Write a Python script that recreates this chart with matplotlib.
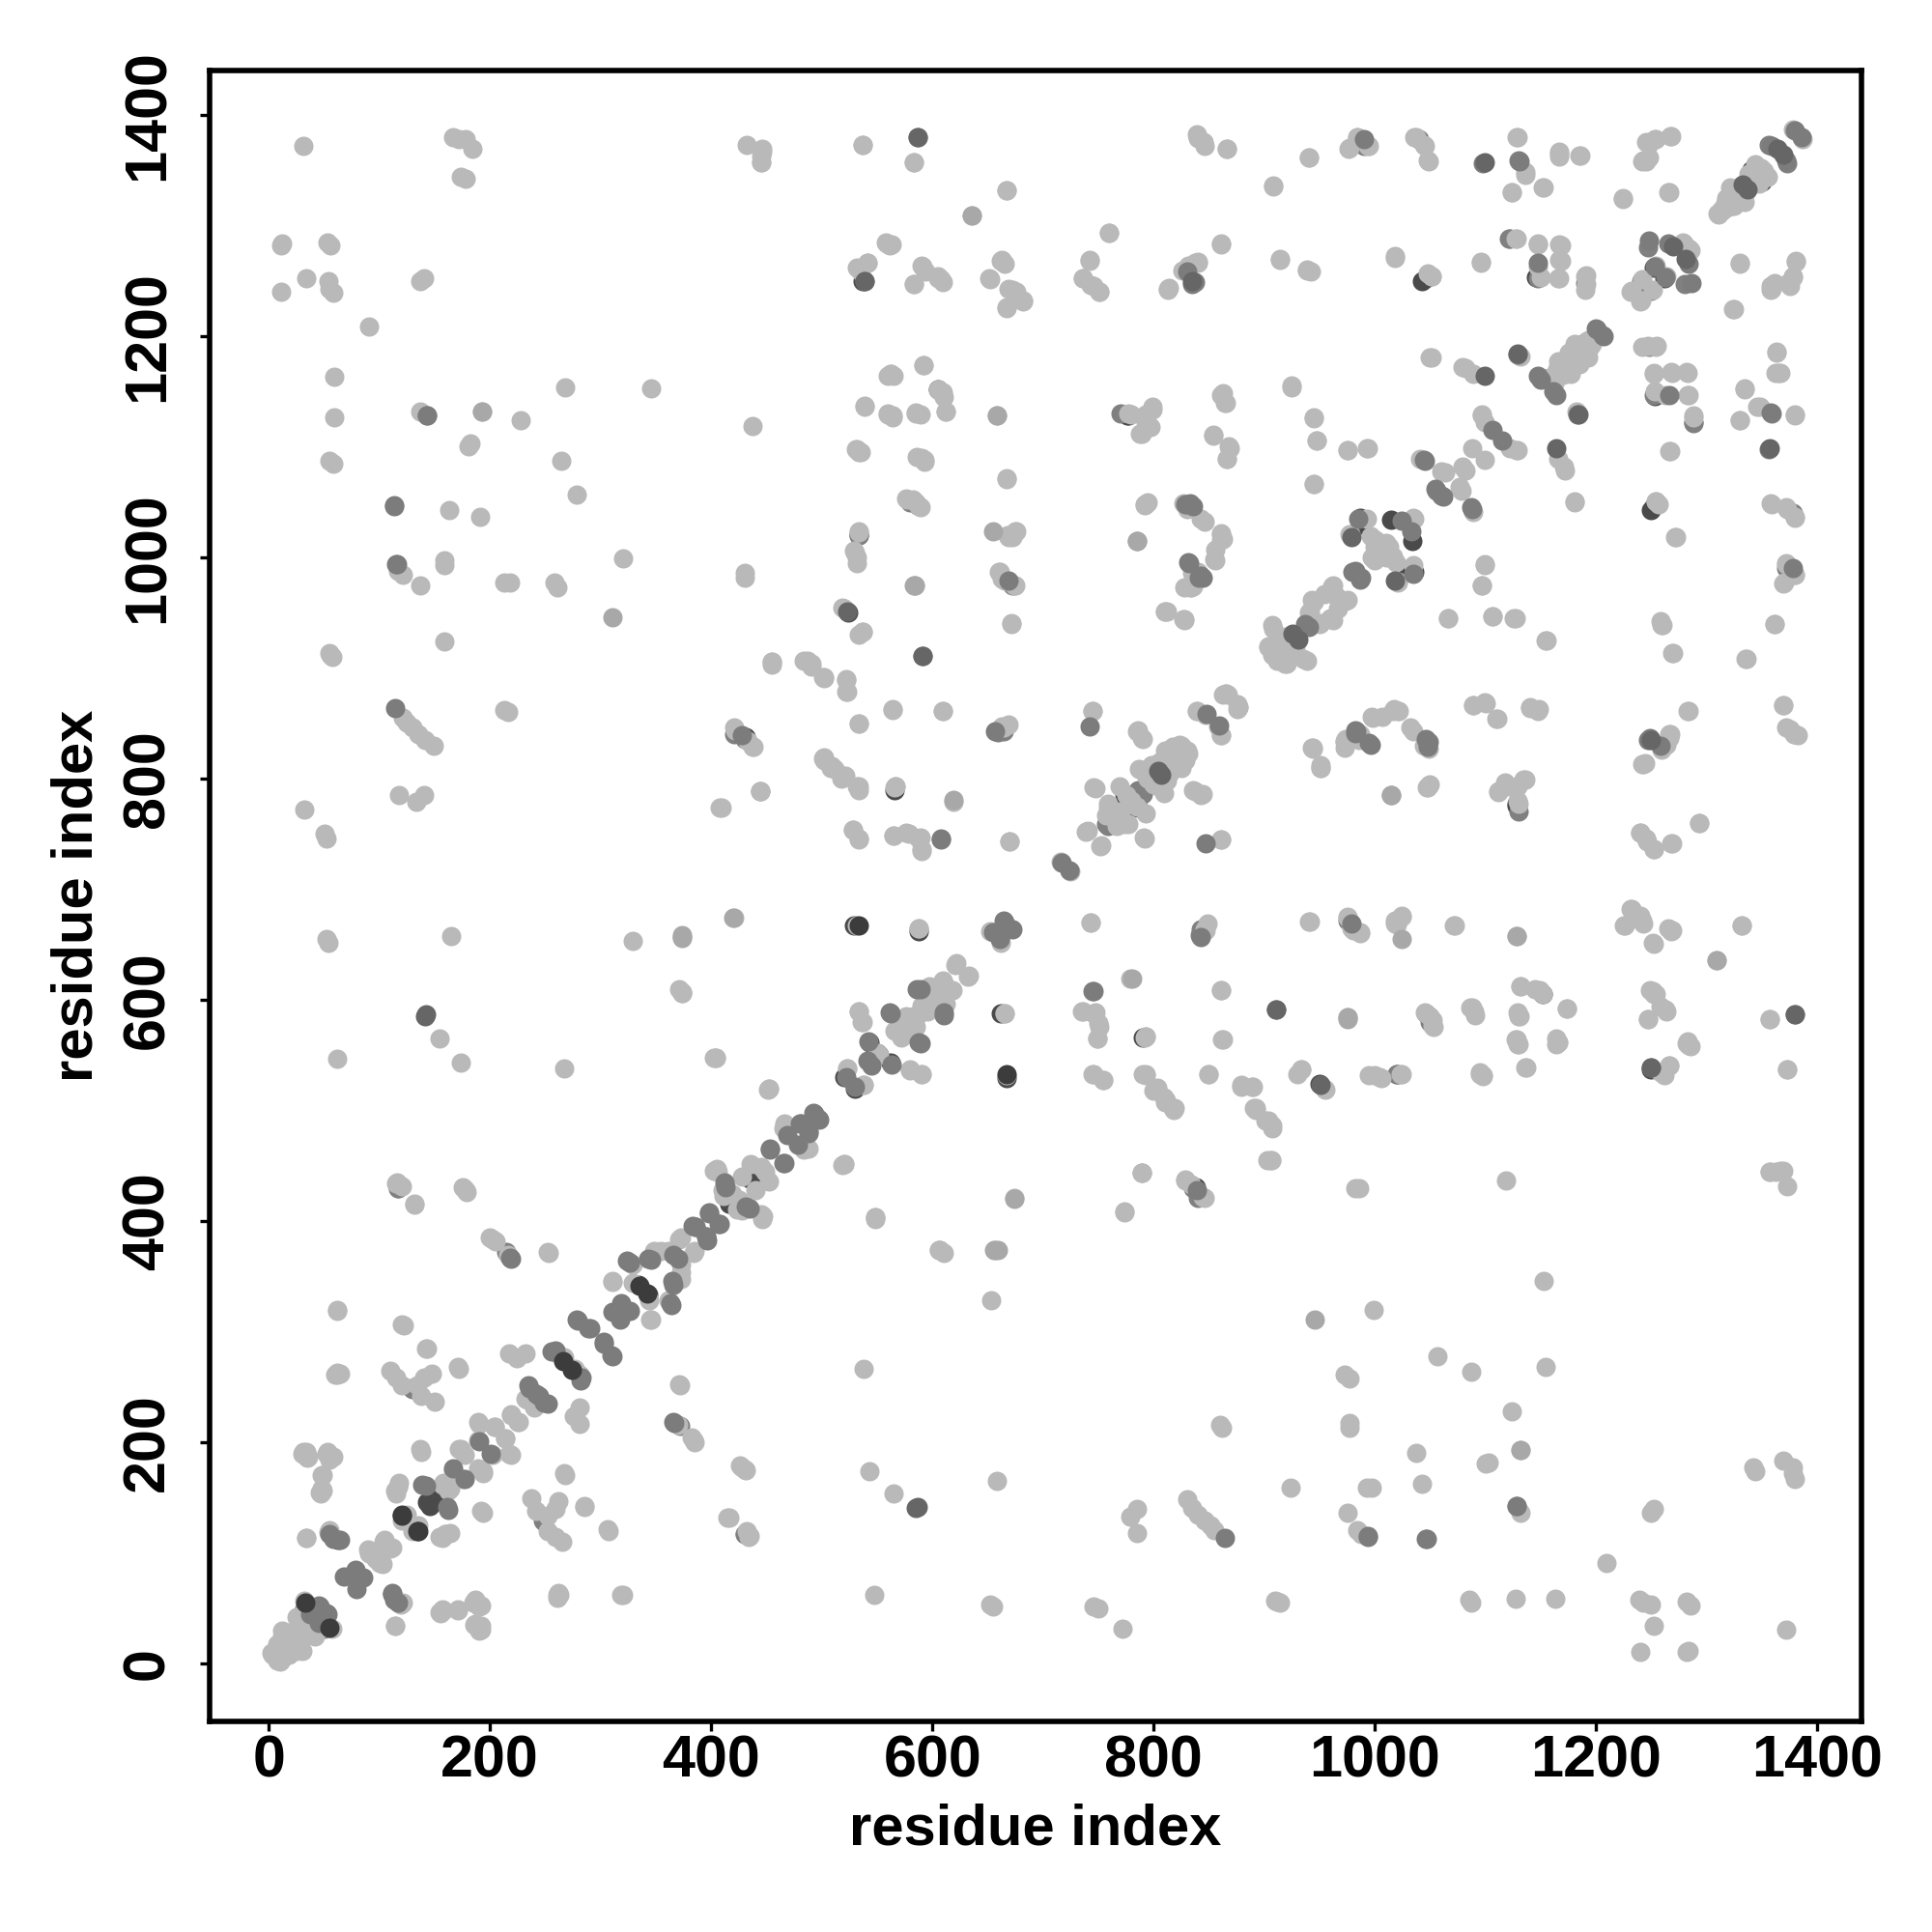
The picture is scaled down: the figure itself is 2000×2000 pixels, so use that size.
import matplotlib
matplotlib.use('Agg')
import matplotlib.pyplot as plt

plt.rcParams['font.family'] = ['Liberation Sans', 'DejaVu Sans']
plt.rcParams['font.weight'] = 'bold'

# contacts as (residue i, residue j), the map is symmetric
under_dark = [(112,63),(416,416),(439,435),(433,441),(343,334),(146,143),(147,157),(550,552),(520,530),
    (543,562),(667,529),(774,786),(1350,1340),(1262,1252),(1046,1252),(1128,777),(1250,1043),(1253,1146),
    (774,770),(566,790),(838,431),(588,662),(987,1030),(1034,1015),(1036,987),(925,920),(1047,587),(950,524),
    (1020,533),(605,1152),(1250,537),(776,1128)]

under_mid = [(32,50),(45,34),(129,249),(248,130),(430,117),(117,430),(215,372),(421,840),
    (664,843),(1247,1280),(1241,1250),(1147,1252),(1190,1248),(1372,990),(757,759),(790,786),
    (842,659),(836,430),(1122,1288),(987,1376),(1040,1378),(1356,1373),(1130,1359),(1288,1121),
    (533,1020),(580,1050),(975,672),(770,1130)]

light_start = [(8,3),(2,10),(5,8),(12,5),(10,15),(14,10),(18,8),(16,18),(20,14),(25,12),(28,18),(22,22),(18,26),
    (30,25),(33,30),(28,34),(35,38),(32,57),(54,33),(24,30),(36,28),(40,32),(42,25),(13,22),(30,12)]

light_lower_left = [(319,62),(262,64),(261,62),(192,31),(187,36),(192,53),(187,58),(171,49),(157,49),(154,47),(121,55),
    (114,34),(415,132),(435,116),(430,176),(426,179),(371,253),(370,216),(384,202),(306,122),(285,143),(267,172),
    (110,265),(115,259),(120,252),(134,252),(140,259),(147,262),(138,242),(150,237),(62,263),(60,261),(62,320),(120,307),
    (142,285),(171,268),(200,385),(205,382),(252,372),(115,434),(120,432),(132,416),(175,431),(178,428),(34,114),(54,119),
    (30,190),(34,192),(35,186),(52,190),(55,185),(48,171),(48,158),(46,155),(192,138),(160,117),(154,115),(164,118),
    (137,194),(117,160),(114,157),(217,190),(217,281),(232,281),(224,276)]

light_diag_low = [(91,100),(103,90),(97,95),(104,110),(112,105),(125,135),(130,120),(157,162),(164,158),(167,175),(172,194),
    (194,174),(177,189),(189,202),(214,204),(204,214),(189,219),(219,225),(226,219),(232,240),(239,234),
    (277,267),(261,281),(311,346),(345,311),(344,329),(329,361),(373,354),(348,373),(361,373),(371,384),(385,373),
    (405,447),(413,433),(411,423),(428,410),(445,406),(402,446),(419,425),(449,445),(436,452),(484,465),(466,488),(440,428),
    (523,538),(538,523),(550,552),(580,537),(590,533),(533,590),(536,580),(566,572),(576,585),(586,585),(600,604),
    (610,615),(618,609),(621,632),(633,622),(662,652),(725,716),(572,580),(582,570),(590,595),(597,612),(605,605)]

light_mid_band = [(519,451),(520,452),(548,404),(774,409),(789,444),(829,437),(844,422),(606,374),(610,371),(452,520),(402,548),
    (588,665),(421,674),(374,657),(374,607),(665,588),(667,532),(743,670),(846,664),(779,619),(861,609),
    (735,590),(747,589),(750,579),(749,565),(793,567),(862,564),(745,533),(754,528),(790,533),(800,518),(810,508),(817,502),
    (850,533),(879,523),(891,502),(745,861),(670,743),(861,745),(590,736),(588,746),(576,751),(565,749),(533,746),(528,754),
    (566,792),(501,818),(509,811),(519,803),(533,793),(444,789),(408,774),(421,846),(438,829),(433,834)]

light_diag_800 = [(752,739),(740,753),(767,757),(777,759),(792,746),(759,774),(747,791),(769,793),(787,809),(804,793),(820,823),
    (831,823),(817,829),(790,836),(785,843),(837,789),(844,786),(826,815),(812,812),(795,800),(780,780),(770,768),(805,815),
    (825,830),(810,825),(785,775),(765,765),(798,812),(839,861),(847,858),(861,839),(867,876),(877,865)]

light_top_right = [(839,1382),(845,1375),(866,1369),(908,1336),(940,1361),(976,1369),(984,1380),(995,1372),(1036,1380),(1044,1373),
    (1048,1359),(1128,1380),(1136,1348),(1124,1330),(1152,1334),(1167,1367),(1167,1362),(1185,1363),(1224,1325),
    (1266,1330),(1268,1381),(1253,1378),(1245,1375),(1243,1359),(1248,1361),(1387,1378),(1338,1347),(1350,1343),
    (1321,1334),(1329,1324),(1313,1314),(1317,1320),(1311,1310),(1344,1355),(1352,1349),(1342,1342),(1335,1330),(1325,1318),
    (861,1284),(814,1244),(826,1259),(840,1267),(831,1263),(914,1270),(939,1260),(942,1258),(1018,1272),(1048,1257),
    (1051,1254),(1096,1267),(1128,1288),(1147,1284),(1167,1283),(1167,1269),(1147,1263),(1166,1252),(1190,1254),
    (1190,1242),(1278,1285),(1284,1279),(1264,1254),(1251,1242),(1241,1232),(1231,1240),(1330,1265),(1381,1267),
    (1358,1245),(1374,1248),(1378,1254),(1324,1224),(1358,1242),
    (1196,1193),(1181,1193),(1169,1177),(1188,1181),(1157,1162),(1177,1166),(1175,1185),(1190,1195),(1165,1170),(1183,1175),
    (1050,1181),(1079,1172),(1089,1166),(1132,1182),(1247,1191),(1255,1191),(1252,1167),(1253,1150),(1268,1168),
    (1282,1168),(1283,1147),(1288,1127),(1363,1186),(1365,1167),(1334,1153),(1346,1136),(1380,1129),(1330,1124)]

light_right_upper = [(925,1155),(863,1148),(864,1140),(854,1111),(868,1100),(866,1089),(945,1127),(947,1106),(975,1097),(993,1099),
    (945,1066),(1097,1129),(1122,1099),(1128,1097),(1099,1088),(1060,1078),(1077,1064),(1079,1082),(1089,1041),
    (1171,1082),(1181,1051),(1266,1096),(1254,1051),(1271,1018),(1358,1049),(1372,1045),(1380,1037),(1372,994),
    (1380,984),(1370,977),(1099,994),(1097,975),(1066,945),(1106,947),(1126,945),(1154,925),(1259,939),(1269,914),
    (1361,940),(1335,908),(827,1049),(843,1035),(861,1021),(861,1016),(855,998),(835,986),(833,973),(812,951),(827,944),
    (993,1035),(978,1021),(1001,1016),(1013,1010),(997,1000),(1019,996),(1036,1035),(1021,977),(962,975),(974,961),
    (954,967),(941,951),(962,943),(950,940),(907,939),(919,928),(935,908),(907,912),(919,904),(904,920),(915,915),(925,912),
    (1005,1005),(1010,1000),(945,960),(965,965),
    (865,877),(876,863),(997,856),(1017,863),(1007,856),(1022,861),(1032,846),(1044,830),(974,836),(987,840),
    (1089,866),(1099,869),(1110,854),(1140,865),(1147,861),(1283,861),(1369,866),(1372,846),(1380,840),(1266,840),(1259,830),
    (1266,837),(1379,840)]

light_right_mid = [(943,828),(951,810),(973,834),(1015,785),(1047,792),(1049,794),(1112,789),(1118,797),(1129,793),(1134,799),(1129,780),
    (1242,813),(1293,760),(1240,751),(1245,746),(1252,736),(1269,742),(940,671),(975,675),(981,663),(987,661),(1024,676),(1018,669),
    (1071,667),(1231,682),(1225,667),(1241,673),(1243,669),(1251,652),(1269,663),(1332,667),(1249,609),(1254,605),(1263,591),(1247,583),
    (975,584),(1045,589),(1050,585),(1052,577),(1086,593),(1090,590),(1132,612),(1149,609),(1152,605),(1174,592),(1130,585),(1127,564),
    (1129,560),(1166,562),(1164,560),(1357,583),(933,537),(954,520),(995,532),(1004,530),(1023,533),(1098,532),(1095,535),(1136,539),(1266,541),
    (1261,533),(1282,561),(1284,559),(1373,537),(890,522),(892,502),(904,491),(907,484),(906,455),(903,455)]

light_bottom = [(986,430),(982,430),(1119,437),(1357,445),(1367,446),(1373,432),(1153,346),(999,320),(1057,278),(1087,264),(1154,268),
    (973,261),(977,258),(1124,228),(977,213),(977,218),(1037,191),(1132,193),(1100,181),(1103,182),(1344,174),(1342,178),(1369,184),(1378,178),
    (1380,167),(1378,172),(924,159),(993,159),(997,159),(1043,163),(975,137),(1132,137),(1252,140),(1250,137),(984,121),(988,117),(1209,91),
    (912,56),(914,55),(1085,58),(1087,55),(1127,59),(1163,59),(1239,58),(1250,54),(1243,55),(1282,56),(1285,53),(1252,34),(1240,11),(1282,11),
    (1284,12),(1372,31),(548,404),(606,374),(653,329),(538,267),(860,216),(862,213),(543,174),(565,154),(658,165),(779,133),(785,140),(785,118),
    (830,149),(835,141),(846,130),(840,135),(851,125),(855,121),(547,62),(652,54),(655,52),(746,52),(750,50),(772,32),(910,57)]

light_top_mid = [(446,1369),(445,1362),(445,1357),(537,1373),(583,1357),(667,1332),(636,1309),(760,1293),(742,1268),(558,1285),(563,1283),
    (541,1266),(532,1262),(535,1258),(583,1247),(590,1264),(594,1258),(608,1251),(605,1252),(662,1268),(665,1265),(651,1252),(672,1242),(682,1232),
    (667,1226),(676,1240),(736,1252),(743,1246),(751,1240),(813,1243),(831,1264),(562,1166),(565,1164),(592,1174),(607,1150),(612,1132),(610,1145),(539,1137),
    (564,1128),(560,1130),(585,1131),(589,1129),(777,1130),(799,1136),(793,1122),(788,1112),(531,1098),(533,1095),(586,1091),(593,1088),(576,1053),(582,1052),
    (588,1046),(533,1024),(529,1006),(532,1000),(675,1024),(668,1020),(672,1018),(667,1072),(792,1048),(795,1050),(785,1015),(828,973),(660,987),(665,979),
    (674,975),(671,941),(519,955),(537,933),(533,930),(810,951),(828,944),(455,906),(487,907),(491,901),(501,892),(522,889),(522,879),(533,850),(564,863),
    (609,861),(663,847),(669,849),(502,819),(512,809),(521,803),(532,793),(567,793),(444,789)]

soft = [(674,420),(656,374),(659,374),(583,975),(658,1128),(975,584),(1128,658),(1309,636),(946,311),(619,781),(655,1024),
    (785,1015),(1047,832),(1132,193)]

mid = [(45,53),(37,45),(52,46),(113,58),(55,117),(64,112),(85,78),(79,68),(80,78),(139,162),(161,142),(177,167),(201,190),
    (236,249),(252,235),(244,242),(256,282),(283,259),(278,311),(289,303),(303,291),(310,279),(326,319),(318,311),(319,318),
    (324,364),(363,326),(343,366),(365,346),(370,366),(383,396),(395,386),(398,408),(407,398),(218,367),(366,219),
    (386,395),(431,413),(412,435),(466,453),(453,465),(469,478),(481,488),(488,480),(493,497),(498,492),
    (530,522),(541,545),(563,542),(561,589),(588,562),(610,589),(586,610),(665,670),(655,661),(672,664),
    (745,608),(717,724),(742,847),(608,746),(428,839),(859,848),(143,1128),(864,114),(1128,143),(994,115),(1046,113),
    (1380,1386),(1372,1359),(1200,1207),(1206,1201),(1147,1164),(1161,1150),(1266,1147),(1358,1131),(1183,1129),
    (1284,1265),(1286,1248),(1253,1263),(1106,1115),(1044,1088),(1056,1060),(1062,1055),(1087,1045),(1356,1098),
    (833,1049),(829,1048),(831,996),(843,983),(1378,990),(985,1035),(1024,1033),(982,988),(987,980),(937,940),(1046,836),(982,844),(995,832),
    (1249,837),(1247,835),(1258,830),(982,841),(539,1250),(669,979),(657,843),(113,1047),(116,994),(1380,587)]

strong = [(587,1380),(1099,1357),(1364,1369),(1333,1337),(1270,1281),(931,926),(979,1018),(141,585),(807,804),(587,142),
    (523,951),(591,911),(911,591),(1250,539),(835,1250),(1099,1164),(1184,1129)]

darkest = [(33,55),(134,120),(120,135),(266,274),(335,342),(533,667)]

light = (light_start + light_lower_left + light_diag_low + light_mid_band + light_diag_800 + light_top_right
         + light_right_upper + light_right_mid + light_bottom + light_top_mid)

fig = plt.figure(figsize=(10, 10), dpi=200)
ax = fig.add_axes([217/2000, 218/2000, 1710/2000, 1709/2000])

for pairs, grey in [(under_dark, '#4a4a4a'), (under_mid, '#808080'), (light, '#b9b9b9'), (soft, '#a8a8a8'),
                    (mid, '#7c7c7c'), (strong, '#666666'), (darkest, '#3c3c3c')]:
    xs = [p[0] for p in pairs] + [p[1] for p in pairs]
    ys = [p[1] for p in pairs] + [p[0] for p in pairs]
    ax.scatter(xs, ys, s=52, color=grey, linewidths=0, zorder=2)

ax.set_xlim(-53.5, 1440)
ax.set_ylim(-52, 1440)
ticks = [0, 200, 400, 600, 800, 1000, 1200, 1400]
ax.set_xticks(ticks)
ax.set_yticks(ticks)
ax.tick_params(axis='x', length=3.5, width=1.2, labelsize=22, pad=1.5)
ax.tick_params(axis='y', length=3.5, width=1.2, labelsize=22, pad=9)
for lab in ax.get_yticklabels():
    lab.set_rotation(90)
    lab.set_va('center')
for sp in ax.spines.values():
    sp.set_linewidth(2)

ax.set_xlabel('residue index', fontsize=21.5, fontweight='bold', va='center')
ax.set_ylabel('residue index', fontsize=21.5, fontweight='bold', va='center')
ax.xaxis.set_label_coords(0.5, -0.0655)
ax.yaxis.set_label_coords(-0.08, 0.5)

fig.savefig('out.png', dpi=200)
